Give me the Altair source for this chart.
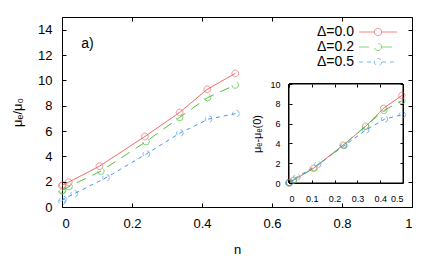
import altair as alt
import pandas as pd

series = ["Δ=0.0", "Δ=0.2", "Δ=0.5"]
colors = ["#ee5555", "#55c040", "#4499ee"]
dashes = [[1, 0], [10, 7], [4, 4]]

# main panel: mu_e / mu_0 versus n
n_main_a = [0.0, 0.002, 0.019, 0.107, 0.237, 0.336, 0.415, 0.495]
mu_main_a = [1.68, 1.74, 1.96, 3.22, 5.57, 7.46, 9.29, 10.55]
n_main_b = [0.0, 0.002, 0.020, 0.111, 0.240, 0.336, 0.416, 0.495]
mu_main_b = [1.28, 1.33, 1.62, 2.83, 5.16, 7.07, 8.64, 9.63]
n_main_c = [0.0, 0.003, 0.035, 0.126, 0.241, 0.337, 0.419, 0.497]
mu_main_c = [0.45, 0.60, 1.05, 2.31, 4.19, 5.84, 6.94, 7.38]

# inset: mu_e - mu_e(0) versus n
n_ins_a = [0.0, 0.002, 0.019, 0.107, 0.237, 0.336, 0.415, 0.495]
d_ins_a = [0.0, 0.06, 0.27, 1.48, 3.82, 5.72, 7.55, 8.84]
n_ins_b = [0.0, 0.002, 0.020, 0.111, 0.240, 0.336, 0.416, 0.495]
d_ins_b = [0.0, 0.05, 0.32, 1.52, 3.83, 5.75, 7.32, 8.30]
n_ins_c = [0.0, 0.003, 0.035, 0.126, 0.241, 0.337, 0.419, 0.497]
d_ins_c = [0.0, 0.15, 0.60, 1.86, 3.75, 5.35, 6.45, 6.90]

x_main_ticks = [0, 0.2, 0.4, 0.6, 0.8, 1]
y_main_ticks = [0, 2, 4, 6, 8, 10, 12, 14]
x_ins_ticks = [0, 0.1, 0.2, 0.3, 0.4, 0.5]
y_ins_ticks = [0, 2, 4, 6, 8, 10]


def frame(ns, vs, s, col):
    return pd.DataFrame({"n": ns, col: vs, "s": s})


main_df = pd.concat([
    frame(n_main_a, mu_main_a, series[0], "mu"),
    frame(n_main_b, mu_main_b, series[1], "mu"),
    frame(n_main_c, mu_main_c, series[2], "mu"),
], ignore_index=True)
ins_df = pd.concat([
    frame(n_ins_a, d_ins_a, series[0], "d"),
    frame(n_ins_b, d_ins_b, series[1], "d"),
    frame(n_ins_c, d_ins_c, series[2], "d"),
], ignore_index=True)

W, H = 350, 190
IX0, IX1, IY0, IY1 = 227, 341, 166, 67  # inset placement in the view (pixels)
FONT = "Liberation Sans"
PLAIN = "'' + datum.value"

legend_symbol = "M-4.75,0L-1,0M1,0L4.75,0M0.9,0A0.9,0.9,0,1,1,-0.9,0A0.9,0.9,0,1,1,0.9,0"
legend_kw = dict(
    title=None, orient="none", legendX=309, legendY=8, padding=0,
    symbolType=legend_symbol, symbolSize=64, symbolStrokeWidth=1,
    labelAlign="right", labelOffset={"expr": "-31"}, labelFontSize=14, labelFont=FONT,
    rowPadding=1, labelColor="black",
)
color = alt.Color("s:N", scale=alt.Scale(domain=series, range=colors), legend=alt.Legend(**legend_kw))
dash = alt.StrokeDash("s:N", scale=alt.Scale(domain=series, range=dashes), legend=alt.Legend(**legend_kw))

mx = alt.Scale(domain=[0, 1], nice=False, zero=False)
my = alt.Scale(domain=[0, 15], nice=False)
ix = alt.Scale(domain=[0, 0.5], range=[IX0, IX1], nice=False, zero=False)
iy = alt.Scale(domain=[0, 10], range=[IY0, IY1], nice=False)

lab = dict(ticks=False, tickSize=0, domain=False, grid=False, labelColor="black", labelOverlap=False,
           tickCount=30, labelExpr=PLAIN, labelFont=FONT, titleFont=FONT, titleFontWeight="normal",
           titleColor="black")


def tick_axis(orient, offset, values, size):
    return alt.Axis(orient=orient, offset=offset, values=values, tickCount=30, labels=False, domain=False,
                    grid=False, ticks=True, tickSize=size, tickColor="black", title=None, zindex=1)


# main data
main_base = alt.Chart(main_df).encode(
    x=alt.X("n:Q", scale=mx, axis=alt.Axis(orient="bottom", values=x_main_ticks,
                                           labelFontSize=13, labelPadding=10, title="n", titleFontSize=13,
                                           titlePadding=13, **lab)),
    y=alt.Y("mu:Q", scale=my, axis=alt.Axis(orient="left", values=y_main_ticks, labelFontSize=13,
                                            labelPadding=10, title="μₑ/μ₀", titleFontSize=13,
                                            titlePadding=13, **lab)),
    color=color,
    strokeDash=dash,
)
note = alt.Chart(alt.InlineData(values=[{"t": "a)"}])).mark_text(
    font=FONT, fontSize=14, align="left", baseline="middle", color="black"
).encode(text="t:N", x=alt.datum(0.055), y=alt.datum(12.9))

main_layer = alt.layer(
    main_base.mark_line(strokeWidth=1),
    main_base.mark_point(filled=False, size=45, strokeWidth=1),
    note,
)

ghost_main = alt.Chart(main_df).mark_point(opacity=0)
main_ticks_1 = ghost_main.encode(
    x=alt.X("n:Q", scale=mx, axis=tick_axis("top", -H, x_main_ticks, 4)),
    y=alt.Y("mu:Q", scale=my, axis=tick_axis("right", -W, y_main_ticks, 4)),
)
main_ticks_2 = ghost_main.encode(
    x=alt.X("n:Q", scale=mx, axis=tick_axis("bottom", -H, x_main_ticks, 4)),
    y=alt.Y("mu:Q", scale=my, axis=tick_axis("left", -W, y_main_ticks, 4)),
)

# inset
ins_base = alt.Chart(ins_df).encode(
    x=alt.X("n:Q", scale=ix, axis=alt.Axis(orient="bottom", offset=-(H - IY0), values=x_ins_ticks,
                                           labelFontSize=9, labelPadding=11,
                                           title=None, zindex=1, **lab)),
    y=alt.Y("d:Q", scale=iy, axis=alt.Axis(orient="left", offset=-IX0, values=y_ins_ticks, labelFontSize=9,
                                           labelPadding=9, title="μₑ-μₑ(0)", titleFontSize=11,
                                           titlePadding=7, zindex=1, **lab)),
    color=color,
    strokeDash=dash,
)
ins_layer = alt.layer(
    alt.Chart(ins_df).mark_rect(fill="white", stroke="black", strokeWidth=1).encode(
        x=alt.datum(0), x2=alt.datum(0.5), y=alt.datum(0), y2=alt.datum(10)),
    ins_base.mark_line(strokeWidth=1),
    ins_base.mark_point(filled=False, size=40, strokeWidth=1),
)

ghost_ins = alt.Chart(ins_df).mark_point(opacity=0)
ins_ticks_1 = ghost_ins.encode(
    x=alt.X("n:Q", scale=ix, axis=tick_axis("top", -IY0, x_ins_ticks, 3)),
    y=alt.Y("d:Q", scale=iy, axis=tick_axis("right", -(W - IX0), y_ins_ticks, 3)),
)
ins_ticks_2 = ghost_ins.encode(
    x=alt.X("n:Q", scale=ix, axis=tick_axis("bottom", -(H - IY1), x_ins_ticks, 3)),
    y=alt.Y("d:Q", scale=iy, axis=tick_axis("left", -IX1, y_ins_ticks, 3)),
)

chart = alt.layer(
    main_layer, main_ticks_1, main_ticks_2, ins_layer, ins_ticks_1, ins_ticks_2
).resolve_scale(
    x="independent", y="independent"
).resolve_axis(
    x="independent", y="independent"
).properties(
    width=W, height=H,
    autosize=alt.AutoSizeParams(type="none"),
    padding={"left": 54, "top": 9, "right": 16, "bottom": 50},
    background="white",
).configure_view(
    stroke="black", strokeWidth=1
)

chart.save("out.html", embed_options={"renderer": "svg", "actions": False})
